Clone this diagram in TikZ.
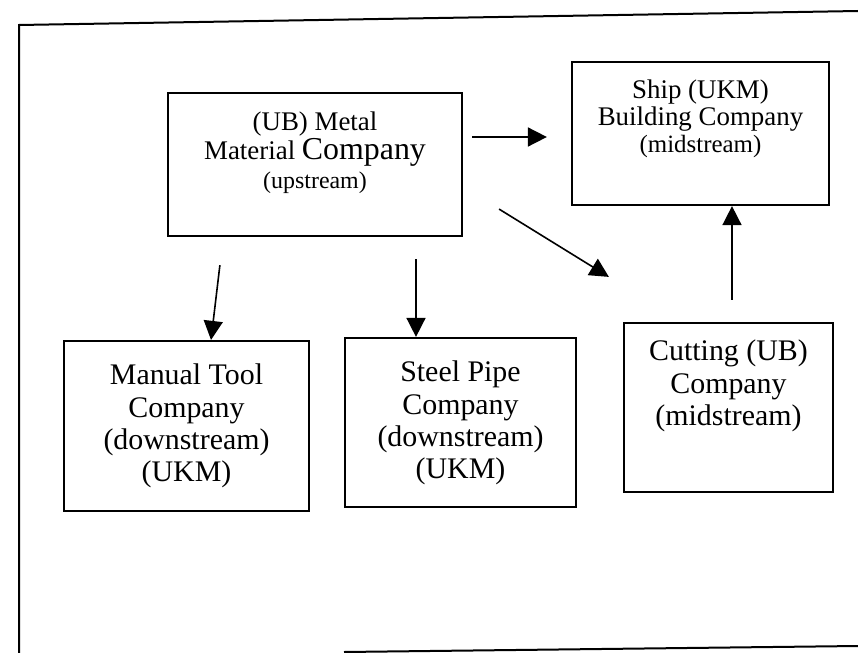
\documentclass[tikz,border=0pt]{standalone}
\usepackage{fontspec}
\setmainfont{Liberation Serif}
\usetikzlibrary{arrows.meta,positioning}

\begin{document}
\begin{tikzpicture}[
  x=1bp, y=-1bp,
  box/.style    = {rectangle, draw=black, line width=2.2bp, inner sep=0pt},
  toptxt/.style = {align=center, inner sep=0pt, font=\fontsize{27}{27}\selectfont},
  lowtxt/.style = {align=center, inner sep=0pt, font=\fontsize{30}{32.5}\selectfont},
  flow/.style   = {-{Triangle[length=19bp,width=19bp]}, draw=black, line width=1.6bp},
  frame/.style  = {draw=black, line width=2bp},
]
\useasboundingbox (0,0) rectangle (858,653);
\draw[frame] (858,11) -- (19,25) -- (19,653);
\draw[frame] (344,652) -- (858,646);
\node[box, minimum width=294bp, minimum height=143bp] (metal)   at (315,164.5) {};
\node[box, minimum width=257bp, minimum height=143bp] (ship)    at (700.5,133.5) {};
\node[box, minimum width=245bp, minimum height=170bp] (manual)  at (186.5,426) {};
\node[box, minimum width=231bp, minimum height=169bp] (steel)   at (460.5,422.5) {};
\node[box, minimum width=209bp, minimum height=169bp] (cutting) at (728.5,407.5) {};
\node[toptxt, font=\fontsize{27}{29}\selectfont, below=20bp of metal.north] (metaltxt)
  {(UB) Metal\\Material {\fontsize{32}{29}\selectfont Company}\\{\fontsize{24}{29}\selectfont (upstream)}};
\node[toptxt, below=19bp of ship.north] (shiptxt)
  {Ship (UKM)\\Building Company\\{\fontsize{25}{27}\selectfont (midstream)}};
\node[lowtxt, below=24bp of manual.north] (manualtxt)
  {Manual Tool\\Company\\(downstream)\\(UKM)};
\node[lowtxt, below=24bp of steel.north] (steeltxt)
  {Steel Pipe\\Company\\(downstream)\\(UKM)};
\node[lowtxt, below=18bp of cutting.north] (cuttingtxt)
  {Cutting (UB)\\Company\\(midstream)};
\draw[flow, shorten <=9bp, shorten >=24bp] ([yshift=27.5bp]metal.east) -- ([yshift=-3.5bp]ship.west);
\draw[flow] ([xshift=36bp,yshift=28bp]metal.south east) -- ([xshift=-14bp,yshift=45bp]cutting.north west);
\draw[flow] ([xshift=3.5bp,yshift=22bp]cutting.north) -- ([xshift=31.5bp]ship.south);
\draw[flow] ([xshift=53bp,yshift=-28bp]metal.south west) -- ([xshift=24.5bp]manual.north);
\draw[flow] ([xshift=101bp,yshift=-22bp]metal.south) -- ([xshift=-44.5bp]steel.north);
\end{tikzpicture}
\end{document}
